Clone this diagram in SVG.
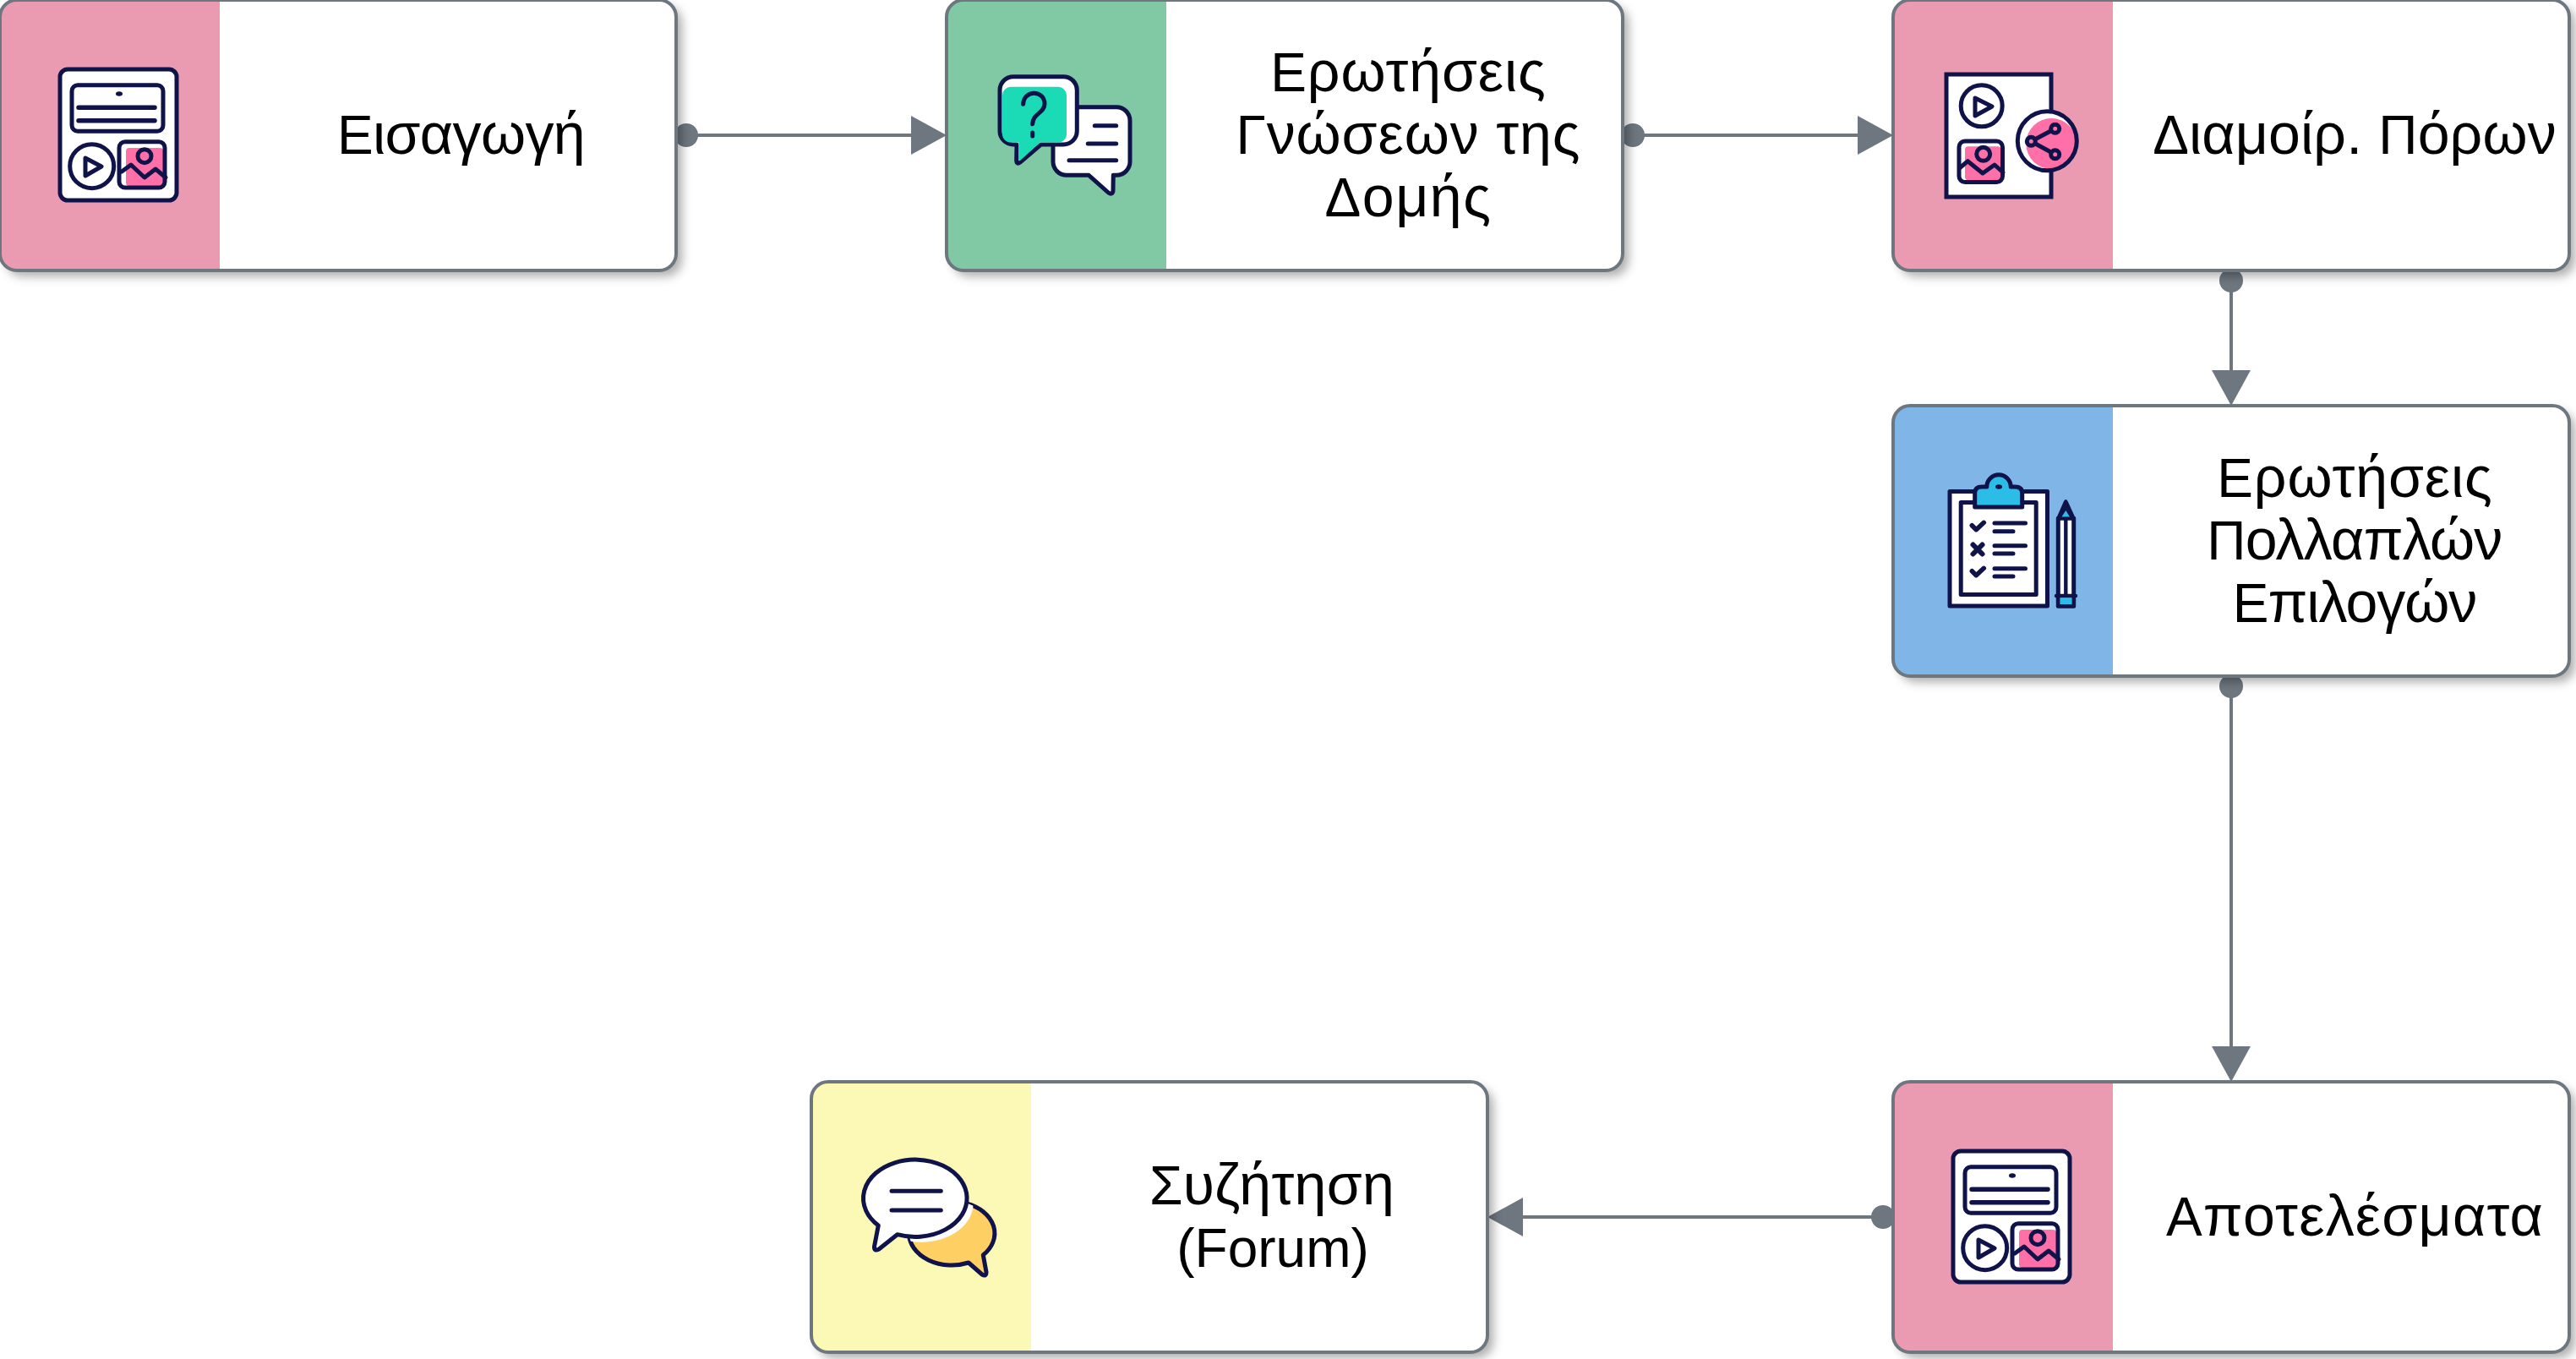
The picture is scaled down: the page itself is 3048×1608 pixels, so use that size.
<svg xmlns="http://www.w3.org/2000/svg" xmlns:xlink="http://www.w3.org/1999/xlink" width="3048" height="1608" viewBox="0 0 3048 1608">
<style>
.card{fill:#fff;stroke:none;filter:url(#sh)}
.frame{fill:none;stroke:#6e7680;stroke-width:4}
.pink{fill:#ea9bb1}.green{fill:#80c9a4}.blue{fill:#80b5e8}.yellow{fill:#fcf9b6}
.lab{font-family:"Liberation Sans",Arial,sans-serif;font-size:68px;fill:#000;text-anchor:middle}
.lab tspan{font-size:64px}
.lat{font-size:64px}
.edge{fill:none;stroke:#6e7680;stroke-width:4;marker-start:url(#dot);marker-end:url(#tri)}
.i{fill:none;stroke:#10124a;stroke-width:5;stroke-linecap:round;stroke-linejoin:round}
.w{fill:#fff}.d{fill:#10124a;stroke:none}.np{fill:#ff6fa8;stroke:none}
</style>
<defs>
<filter id="sh" x="-10%" y="-20%" width="125%" height="150%"><feDropShadow dx="7" dy="7" stdDeviation="6" flood-color="#000" flood-opacity="0.32"/></filter>
<marker id="tri" markerUnits="userSpaceOnUse" markerWidth="42" markerHeight="46" refX="0" refY="23" orient="auto"><path d="M0 0L42 23L0 46Z" fill="#6e7680"/></marker>
<marker id="dot" markerUnits="userSpaceOnUse" markerWidth="28" markerHeight="28" refX="14" refY="14"><circle cx="14" cy="14" r="14" fill="#6e7680"/></marker>
<clipPath id="backclip"><ellipse cx="166.7" cy="179.3" rx="50.7" ry="37.7"/></clipPath>
<clipPath id="shareclip"><circle cx="182.3" cy="166.7" r="35"/></clipPath>
<g id="media" class="i">
<rect class="w" x="71" y="82" width="138" height="155" rx="9"/>
<rect x="85" y="100.7" width="108" height="54.6" rx="7"/>
<ellipse class="d" cx="141" cy="111" rx="4" ry="2.7"/>
<path d="M93 127.3H183M93 142.7H183" stroke-width="5.5"/>
<circle cx="108.7" cy="196.7" r="26"/>
<path d="M101 187L120 197L101 208Z"/>
<rect x="149" y="175" width="44" height="45" rx="4" class="np"/>
<rect x="141" y="167.7" width="54" height="54.3" rx="7"/>
<circle cx="171" cy="184.7" r="8"/>
<path d="M144 203L155 195L171 210L184 200L196 210"/>
</g>
</defs>
<g id="connectors">
<path class="edge" d="M812 160H1078"/>
<path class="edge" d="M1932 160H2198"/>
<path class="edge" d="M2640 332V438"/>
<path class="edge" d="M2640 812V1238"/>
<path class="edge" d="M2228 1440H1802"/>
</g>
<g id="node-intro">
<rect class="card" x="0" y="0" width="800" height="320" rx="20"/>
<path class="pink" d="M20 0H260V320H20A20 20 0 0 1 0 300V20A20 20 0 0 1 20 0Z"/>
<rect class="frame" x="0" y="0" width="800" height="320" rx="20"/>
<use href="#media"/>
<text class="lab" x="545.5" y="182" letter-spacing="-0.6"><tspan>Ε</tspan>ισαγωγή</text>
</g>
<g id="node-questions" transform="translate(1120 0)">
<rect class="card" width="800" height="320" rx="20"/>
<path class="green" d="M20 0H260V320H20A20 20 0 0 1 0 300V20A20 20 0 0 1 20 0Z"/>
<rect class="frame" width="800" height="320" rx="20"/>
<g class="i">
<path class="w" d="M142 126.7H201A16 16 0 0 1 217 142.7V191.3A16 16 0 0 1 201 207.3H197.3L197 226Q196 231 191.5 228L168.3 207.3H142A16 16 0 0 1 126 191.3V142.7A16 16 0 0 1 142 126.7Z"/>
<path d="M175.3 148.7H200.7M167.3 170H200.7M145 189.7H200.7" stroke-width="5"/>
<path class="w" d="M79 90.7H138.3A16 16 0 0 1 154.3 106.7V155A16 16 0 0 1 138.3 171H111.7L87 192Q83 195 82.7 190L83 171H79A16 16 0 0 1 63 155V106.7A16 16 0 0 1 79 90.7Z"/>
<path d="M76 102.7H132A10 10 0 0 1 142 112.7V158A10 10 0 0 1 132 168.6H110.8L87 190Q85 191 85 188L85.4 168.6H76A10 10 0 0 1 66 158V112.7A10 10 0 0 1 76 102.7Z" fill="#1bdab6" stroke="none"/>
<path d="M90.7 123.3C91 106 116 106 116 123C116 134 102 134 101.7 146.7M101.7 157V161" stroke-width="5"/>
</g>
<text class="lab" x="546.5" y="108.4" letter-spacing="0.9"><tspan>Ε</tspan>ρωτήσεις</text>
<text class="lab" x="546.5" y="182" letter-spacing="0.9"><tspan>Γ</tspan>νώσεων της</text>
<text class="lab" x="546.5" y="255.6" letter-spacing="1.5"><tspan>Δ</tspan>ομής</text>
</g>
<g id="node-resources" transform="translate(2240 0)">
<rect class="card" width="800" height="320" rx="20"/>
<path class="pink" d="M20 0H260V320H20A20 20 0 0 1 0 300V20A20 20 0 0 1 20 0Z"/>
<rect class="frame" width="800" height="320" rx="20"/>
<g class="i">
<rect class="w" x="63" y="88" width="124" height="145" stroke-linejoin="miter"/>
<circle cx="104.7" cy="125.3" r="24.5"/>
<path d="M97 116L117 126L97 137Z"/>
<rect class="np" x="85" y="173.3" width="42.7" height="40" rx="4"/>
<rect x="78" y="167" width="51.5" height="48.5" rx="7"/>
<circle cx="106.7" cy="182.3" r="8"/>
<path d="M78.5 199L88.3 190.7L106 205L120 195L130 204"/>
<circle class="w" cx="182.3" cy="166.7" r="35" stroke="none"/>
<circle class="np" cx="187.3" cy="170" r="30" clip-path="url(#shareclip)"/>
<circle cx="182.3" cy="166.7" r="35"/>
<path d="M191.7 152.3L163.3 167.3L191.7 182.7"/>
<circle cx="191.7" cy="152.3" r="5" fill="#ff6fa8"/>
<circle cx="163.3" cy="167.3" r="5" fill="#ff6fa8"/>
<circle cx="191.7" cy="182.7" r="5" fill="#ff6fa8"/>
</g>
<text class="lab" x="546" y="182" letter-spacing="0.15"><tspan>Δ</tspan>ιαμοίρ. <tspan>Π</tspan>όρων</text>
</g>
<g id="node-mcq" transform="translate(2240 480)">
<rect class="card" width="800" height="320" rx="20"/>
<path class="blue" d="M20 0H260V320H20A20 20 0 0 1 0 300V20A20 20 0 0 1 20 0Z"/>
<rect class="frame" width="800" height="320" rx="20"/>
<g class="i">
<rect class="w" x="67" y="101.5" width="115.5" height="135.5"/>
<rect class="w" x="80.2" y="114.5" width="89" height="109"/>
<path d="M96.7 120V103.3Q96.7 96 105 96H110.8A14.2 14.2 0 0 1 139.2 96H144Q152.7 96 152.7 103.3V120Z" fill="#2cbce8"/>
<ellipse class="d" cx="125" cy="96" rx="4" ry="2.7"/>
<path d="M93.3 141.7L98.3 146.7L107.3 138.3M93.3 195.7L98.3 200.7L107.3 192.3" stroke-width="5.5"/>
<path d="M94.5 164.5L105.5 175.5M105.5 164.5L94.5 175.5" stroke-width="6"/>
<path d="M120 139H156.5M120 148.7H142M120 165.7H156.5M120 175H142M120 192.7H156.5M120 202H142"/>
<path class="w" d="M195.3 133.3H213.7V237.3H195.3Z"/>
<path class="d" d="M192.8 134L202 113Q204.3 109 206.6 113L216.2 134Z"/>
<path d="M199.5 131.5L204.3 124L209 131.5Z" fill="#2cbce8" stroke="none"/>
<path d="M204.3 134V225" stroke-width="4.4"/>
<path d="M197.6 227.3H211.4V235H197.6Z" fill="#2cbce8" stroke="none"/>
<path d="M193 225H216" stroke-width="4.4"/>
</g>
<text class="lab" x="546.5" y="108.4" letter-spacing="0.9"><tspan>Ε</tspan>ρωτήσεις</text>
<text class="lab" x="546" y="182" letter-spacing="-0.75"><tspan>Π</tspan>ολλαπλών</text>
<text class="lab" x="546" y="255.6" letter-spacing="-1"><tspan>Ε</tspan>πιλογών</text>
</g>
<g id="node-results" transform="translate(2240 1280)">
<rect class="card" width="800" height="320" rx="20"/>
<path class="pink" d="M20 0H260V320H20A20 20 0 0 1 0 300V20A20 20 0 0 1 20 0Z"/>
<rect class="frame" width="800" height="320" rx="20"/>
<use href="#media"/>
<text class="lab" x="546.5" y="182" letter-spacing="1.2"><tspan>Α</tspan>ποτελέσματα</text>
</g>
<g id="node-forum" transform="translate(960 1280)">
<rect class="card" width="800" height="320" rx="20"/>
<path class="yellow" d="M20 0H260V320H20A20 20 0 0 1 0 300V20A20 20 0 0 1 20 0Z"/>
<rect class="frame" width="800" height="320" rx="20"/>
<g class="i">
<path d="M186 214A50.7 37.7 0 1 1 203.3 205L207 225Q207 231 202 228Z" fill="#fecf62"/>
<ellipse cx="130.3" cy="144" rx="61.3" ry="45.7" fill="#fff" stroke="none" clip-path="url(#backclip)"/>
<path class="w" d="M79.3 170A61.3 45.7 0 1 1 101.7 180.7L80 198Q74 201 74.5 195Z"/>
<path d="M95 129.3H153.3M95 152H153.3"/>
</g>
<text class="lab" x="545" y="145.2" letter-spacing="0.3"><tspan>Σ</tspan>υζήτηση</text>
<text class="lab lat" x="546" y="218.8">(Forum)</text>
</g>
</svg>
